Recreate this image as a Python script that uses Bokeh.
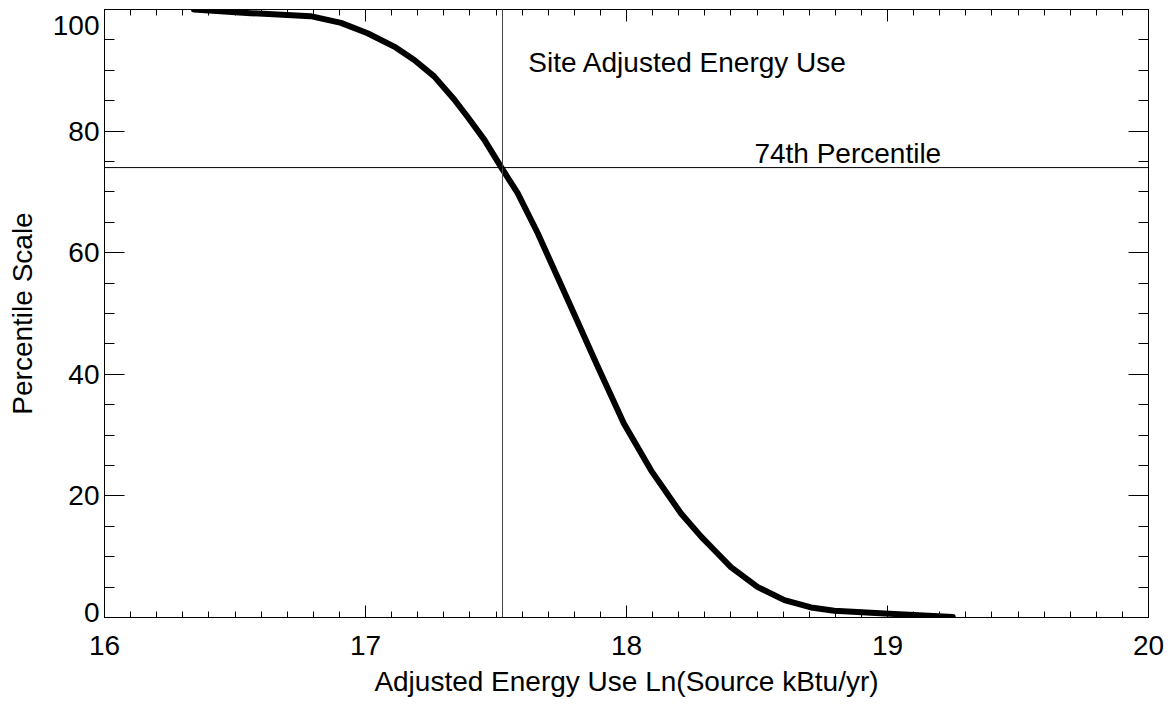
from bokeh.plotting import figure
from bokeh.models import (Range1d, LinearAxis, FixedTicker, Span, Label)
from bokeh.embed import file_html
from bokeh.resources import INLINE

# ---- data ----
energy_ln = [16.343, 16.56, 16.79, 16.906, 17.008, 17.11, 17.187, 17.263, 17.34,
             17.39, 17.455, 17.525, 17.583, 17.66, 17.787, 17.89, 17.99,
             18.094, 18.209, 18.286, 18.336, 18.40, 18.503, 18.605, 18.707,
             18.796, 18.99, 19.25]
percentile = [100.0, 99.4, 98.9, 97.8, 96.1, 93.9, 91.7, 89.0, 85.2,
              82.4, 78.6, 73.7, 69.8, 63.2, 51.1, 41.25, 31.9,
              24.2, 17.1, 13.3, 11.1, 8.3, 5.0, 2.85, 1.65,
              1.1, 0.65, 0.1]
site_energy = 17.525
site_percentile = 74
x_ticks = [16, 17, 18, 19, 20]
x_minor = [round(16 + 0.1 * i, 1) for i in range(41)]
y_ticks = [0, 20, 40, 60, 80, 100]
y_minor = [5 * i for i in range(21)]
title_text = "Site Adjusted Energy Use"
pct_text = "74th Percentile"
x_title = "Adjusted Energy Use Ln(Source kBtu/yr)"
y_title = "Percentile Scale"

FONT = "Liberation Sans"
FS = "28px"

p = figure(frame_width=1044, frame_height=608,
           x_range=Range1d(16, 20), y_range=Range1d(0, 100),
           output_backend="svg", toolbar_location=None,
           min_border_left=104, min_border_right=20,
           min_border_top=9, min_border_bottom=84,
           background_fill_color="white", border_fill_color="white")
p.xgrid.visible = False
p.ygrid.visible = False
p.outline_line_color = "black"
p.outline_line_width = 1


def style_axis(ax, major_in, minor_in, labels=True, ticks=None):
    ax.major_tick_in = major_in
    ax.minor_tick_in = minor_in
    ax.major_tick_out = 0
    ax.minor_tick_out = 0
    ax.axis_line_color = "black"
    ax.major_tick_line_color = "black"
    ax.minor_tick_line_color = "black"
    if labels:
        ax.major_label_text_font = FONT
        ax.major_label_text_font_size = FS
        ax.major_label_text_color = "black"
        ax.axis_label_text_font = FONT
        ax.axis_label_text_font_size = FS
        ax.axis_label_text_font_style = "normal"
        ax.axis_label_text_color = "black"
    else:
        ax.major_label_overrides = {t: "" for t in ticks}
        ax.major_label_text_font_size = "1px"
        ax.major_label_standoff = 0


xa = p.xaxis[0]
xa.ticker = FixedTicker(ticks=x_ticks, minor_ticks=x_minor)
xa.axis_label = x_title
style_axis(xa, 12, 6)
xa.major_label_standoff = 18
xa.axis_label_standoff = 8

ya = p.yaxis[0]
ya.ticker = FixedTicker(ticks=y_ticks, minor_ticks=y_minor)
ya.axis_label = y_title
style_axis(ya, 20, 10)
ya.major_label_standoff = 5
ya.axis_label_standoff = 12
ya.major_label_text_line_height = 0.3
ya.major_label_overrides = {100: "\n100", 0: "0\n"}

top_ax = LinearAxis(ticker=FixedTicker(ticks=x_ticks, minor_ticks=x_minor))
style_axis(top_ax, 12, 6, labels=False, ticks=x_ticks)
p.add_layout(top_ax, "above")
right_ax = LinearAxis(ticker=FixedTicker(ticks=y_ticks, minor_ticks=y_minor))
style_axis(right_ax, 20, 10, labels=False, ticks=y_ticks)
p.add_layout(right_ax, "right")

p.add_layout(Span(location=site_energy, dimension="height",
                  line_color="#444444", line_width=1))
p.add_layout(Span(location=site_percentile, dimension="width",
                  line_color="black", line_width=1))

p.line(energy_ln, percentile, line_color="black", line_width=6,
       line_cap="round", line_join="round")

p.add_layout(Label(x=17.624, y=91.25, text=title_text, text_font=FONT,
                   text_font_size=FS, text_color="black",
                   text_baseline="alphabetic"))
p.add_layout(Label(x=18.49, y=76.3, text=pct_text, text_font=FONT,
                   text_font_size=FS, text_color="black",
                   text_baseline="alphabetic"))

open("out.html", "w").write(file_html(p, INLINE))
